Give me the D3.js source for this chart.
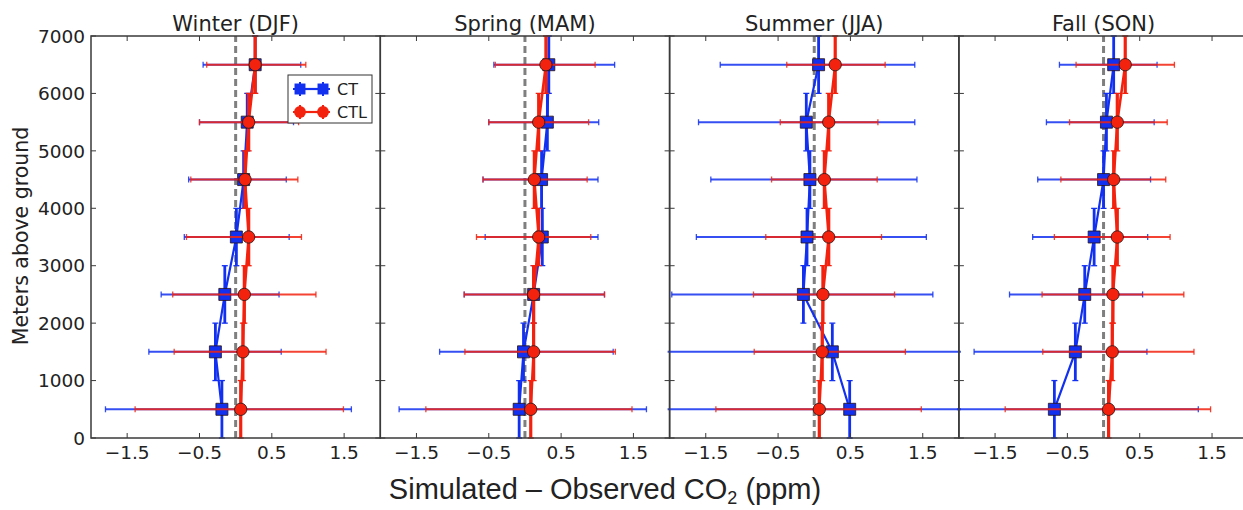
<!DOCTYPE html>
<html>
<head>
<meta charset="utf-8">
<script src="https://cdn.jsdelivr.net/npm/d3@7"></script>
<style>
  body { margin: 0; background: #fff; }
  text { font-family: "DejaVu Sans", sans-serif; fill: #222; }
</style>
</head>
<body>
<svg id="chart" width="1243" height="510"></svg>
<script>
const levels = [500, 1500, 2500, 3500, 4500, 5500, 6500];
const seasons = ['Winter (DJF)', 'Spring (MAM)', 'Summer (JJA)', 'Fall (SON)'];
const xTicks = [-1.5, -0.5, 0.5, 1.5];
const yTicks = [0, 1000, 2000, 3000, 4000, 5000, 6000, 7000];

// CT (blue squares): mean bias and error-bar ends per season, bottom to top
const ctMean = [
    [-0.19, -0.28, -0.15, 0.01, 0.11, 0.16, 0.27],
    [-0.08, -0.02, 0.12, 0.24, 0.23, 0.31, 0.33],
    [0.49, 0.25, -0.15, -0.10, -0.06, -0.11, 0.06],
    [-0.68, -0.39, -0.26, -0.13, 0.00, 0.04, 0.14]
];
const ctLow = [
    [-1.80, -1.20, -1.03, -0.71, -0.65, -0.50, -0.45],
    [-1.74, -1.18, -0.84, -0.55, -0.58, -0.50, -0.43],
    [-2.30, -2.30, -1.97, -1.63, -1.43, -1.60, -1.30],
    [-2.20, -1.79, -1.30, -0.98, -0.91, -0.79, -0.61]
];
const ctHigh = [
    [1.60, 0.63, 0.60, 0.74, 0.70, 0.80, 0.90],
    [1.68, 1.22, 1.10, 1.01, 1.01, 1.02, 1.24],
    [2.50, 2.30, 1.64, 1.55, 1.42, 1.39, 1.39],
    [1.31, 0.60, 0.54, 0.61, 0.65, 0.70, 0.74]
];

// CTL (red circles)
const ctlMean = [
    [0.07, 0.10, 0.12, 0.18, 0.13, 0.18, 0.27],
    [0.08, 0.12, 0.12, 0.19, 0.13, 0.19, 0.29],
    [0.07, 0.11, 0.12, 0.20, 0.14, 0.20, 0.29],
    [0.07, 0.12, 0.13, 0.19, 0.14, 0.19, 0.30]
];
const ctlLow = [
    [-1.39, -0.85, -0.87, -0.68, -0.62, -0.50, -0.40],
    [-1.37, -0.83, -0.84, -0.67, -0.58, -0.50, -0.41],
    [-1.36, -0.83, -0.84, -0.67, -0.59, -0.47, -0.38],
    [-1.36, -0.84, -0.85, -0.68, -0.59, -0.47, -0.38]
];
const ctlHigh = [
    [1.49, 1.25, 1.11, 0.91, 0.86, 0.87, 0.97],
    [1.48, 1.25, 1.10, 0.91, 0.86, 0.88, 0.97],
    [1.48, 1.26, 1.11, 0.93, 0.87, 0.88, 0.98],
    [1.48, 1.25, 1.11, 0.92, 0.86, 0.88, 0.98]
];

const binHalf = 500;
const blue = '#1230f0';
const red = '#f2220f';
const frameColor = '#3a3a3a';

const plotLeft = 91, plotTop = 36;
const panelWidth = 289.3, panelHeight = 402;

const svg = d3.select('#chart');

const x = d3.scaleLinear().domain([-2, 2]).range([0, panelWidth]);
const y = d3.scaleLinear().domain([0, 7000]).range([panelHeight, 0]);

const toPoints = (mean, low, high) =>
    levels.map((alt, k) => ({ alt, v: mean[k], lo: low[k], hi: high[k] }));

const drawSeries = (g, clip, pts, color, shape, weight) => {
    const s = g.append('g').attr('clip-path', clip);

    // horizontal error bars with caps
    s.selectAll('.xerr')
        .data(pts)
        .enter()
        .append('line')
        .attr('x1', d => x(d.lo))
        .attr('x2', d => x(d.hi))
        .attr('y1', d => y(d.alt))
        .attr('y2', d => y(d.alt))
        .attr('stroke', color)
        .attr('stroke-width', 2)
        .attr('stroke-opacity', 0.85);

    s.selectAll('.xcap')
        .data(pts.flatMap(d => [{ v: d.lo, alt: d.alt }, { v: d.hi, alt: d.alt }]))
        .enter()
        .append('line')
        .attr('x1', d => x(d.v))
        .attr('x2', d => x(d.v))
        .attr('y1', d => y(d.alt) - 3)
        .attr('y2', d => y(d.alt) + 3)
        .attr('stroke', color)
        .attr('stroke-width', 1.3)
        .attr('stroke-opacity', 0.85);

    // vertical bars covering each altitude bin
    s.selectAll('.yerr')
        .data(pts)
        .enter()
        .append('line')
        .attr('x1', d => x(d.v))
        .attr('x2', d => x(d.v))
        .attr('y1', d => y(d.alt - binHalf))
        .attr('y2', d => y(d.alt + binHalf))
        .attr('stroke', color)
        .attr('stroke-width', weight + 0.6);

    s.selectAll('.ycap')
        .data(pts.flatMap(d => [{ v: d.v, alt: d.alt - binHalf }, { v: d.v, alt: d.alt + binHalf }]))
        .enter()
        .append('line')
        .attr('x1', d => x(d.v) - 3)
        .attr('x2', d => x(d.v) + 3)
        .attr('y1', d => y(d.alt))
        .attr('y2', d => y(d.alt))
        .attr('stroke', color)
        .attr('stroke-width', 1.3);

    s.append('path')
        .datum(pts)
        .attr('fill', 'none')
        .attr('stroke', color)
        .attr('stroke-width', weight)
        .attr('d', d3.line().x(d => x(d.v)).y(d => y(d.alt)));

    const sym = d3.symbol()
        .type(shape === 'square' ? d3.symbolSquare : d3.symbolCircle)
        .size(shape === 'square' ? 144 : 120);

    s.selectAll('.marker')
        .data(pts)
        .enter()
        .append('path')
        .attr('d', sym)
        .attr('transform', d => `translate(${x(d.v)},${y(d.alt)})`)
        .attr('fill', color)
        .attr('stroke', '#2a1212')
        .attr('stroke-width', 0.8);
};

seasons.forEach((title, i) => {
    const g = svg.append('g')
        .attr('transform', `translate(${plotLeft + i * panelWidth},${plotTop})`);

    const clipId = `clip-${i}`;
    g.append('clipPath')
        .attr('id', clipId)
        .append('rect')
        .attr('x', -2)
        .attr('y', -1)
        .attr('width', panelWidth + 4)
        .attr('height', panelHeight + 2);
    const clip = `url(#${clipId})`;

    // zero reference line
    g.append('line')
        .attr('x1', x(0))
        .attr('x2', x(0))
        .attr('y1', y(0))
        .attr('y2', y(7000))
        .attr('stroke', '#7f7f7f')
        .attr('stroke-width', 3)
        .attr('stroke-dasharray', '7,4');

    drawSeries(g, clip, toPoints(ctMean[i], ctLow[i], ctHigh[i]), blue, 'square', 2.2);
    drawSeries(g, clip, toPoints(ctlMean[i], ctlLow[i], ctlHigh[i]), red, 'circle', 2.6);

    // frame
    g.append('rect')
        .attr('width', panelWidth)
        .attr('height', panelHeight)
        .attr('fill', 'none')
        .attr('stroke', frameColor)
        .attr('stroke-width', 1.5);

    // inward ticks on all four sides
    const tickLen = 5;
    g.selectAll('.xt-bottom')
        .data(xTicks)
        .enter()
        .append('line')
        .attr('x1', d => x(d)).attr('x2', d => x(d))
        .attr('y1', panelHeight).attr('y2', panelHeight - tickLen)
        .attr('stroke', frameColor);
    g.selectAll('.xt-top')
        .data(xTicks)
        .enter()
        .append('line')
        .attr('x1', d => x(d)).attr('x2', d => x(d))
        .attr('y1', 0).attr('y2', tickLen)
        .attr('stroke', frameColor);
    g.selectAll('.yt-left')
        .data(yTicks)
        .enter()
        .append('line')
        .attr('x1', 0).attr('x2', tickLen)
        .attr('y1', d => y(d)).attr('y2', d => y(d))
        .attr('stroke', frameColor);
    g.selectAll('.yt-right')
        .data(yTicks)
        .enter()
        .append('line')
        .attr('x1', panelWidth).attr('x2', panelWidth - tickLen)
        .attr('y1', d => y(d)).attr('y2', d => y(d))
        .attr('stroke', frameColor);

    g.selectAll('.xlab')
        .data(xTicks)
        .enter()
        .append('text')
        .attr('x', d => x(d))
        .attr('y', panelHeight + 21)
        .attr('text-anchor', 'middle')
        .attr('font-size', 18.5)
        .text(d => d3.format('.1f')(d).replace('-', '\u2212'));

    if (i === 0) {
        g.selectAll('.ylab')
            .data(yTicks)
            .enter()
            .append('text')
            .attr('x', -6)
            .attr('y', d => y(d))
            .attr('dy', '0.36em')
            .attr('text-anchor', 'end')
            .attr('font-size', 18.5)
            .text(d => d);
    }

    g.append('text')
        .attr('x', x(0))
        .attr('y', -5)
        .attr('text-anchor', 'middle')
        .attr('font-size', 21)
        .text(title);
});

// legend in the first panel
const legend = svg.append('g').attr('transform', 'translate(288,75)');
legend.append('rect')
    .attr('width', 84)
    .attr('height', 48)
    .attr('fill', '#fff')
    .attr('stroke', '#333')
    .attr('stroke-width', 1);

[
    { label: 'CT', color: blue, shape: d3.symbolSquare, size: 120 },
    { label: 'CTL', color: red, shape: d3.symbolCircle, size: 110 }
].forEach((entry, k) => {
    const row = legend.append('g').attr('transform', `translate(0,${14 + k * 23})`);
    row.append('line')
        .attr('x1', 12).attr('x2', 35)
        .attr('stroke', entry.color).attr('stroke-width', 2.2);
    [12, 35].forEach(cx => {
        row.append('line')
            .attr('x1', cx).attr('x2', cx).attr('y1', -7).attr('y2', 7)
            .attr('stroke', entry.color).attr('stroke-width', 2);
        row.append('line')
            .attr('x1', cx - 7).attr('x2', cx + 7)
            .attr('stroke', entry.color).attr('stroke-width', 2);
        row.append('path')
            .attr('d', d3.symbol().type(entry.shape).size(entry.size))
            .attr('transform', `translate(${cx},0)`)
            .attr('fill', entry.color);
    });
    row.append('text')
        .attr('x', 49)
        .attr('dy', '0.36em')
        .attr('font-size', 16)
        .text(entry.label);
});

// axis titles
svg.append('text')
    .attr('transform', 'translate(28,236) rotate(-90)')
    .attr('text-anchor', 'middle')
    .attr('font-size', 20.5)
    .text('Meters above ground');

const xTitle = svg.append('text')
    .attr('x', 605)
    .attr('y', 499)
    .attr('text-anchor', 'middle')
    .attr('font-size', 29)
    .style('font-family', '"Liberation Sans", Arial, sans-serif');
xTitle.append('tspan').text('Simulated \u2013 Observed CO');
xTitle.append('tspan').attr('font-size', 18).attr('dy', 5).text('2');
xTitle.append('tspan').attr('dy', -5).text(' (ppm)');
</script>
</body>
</html>
